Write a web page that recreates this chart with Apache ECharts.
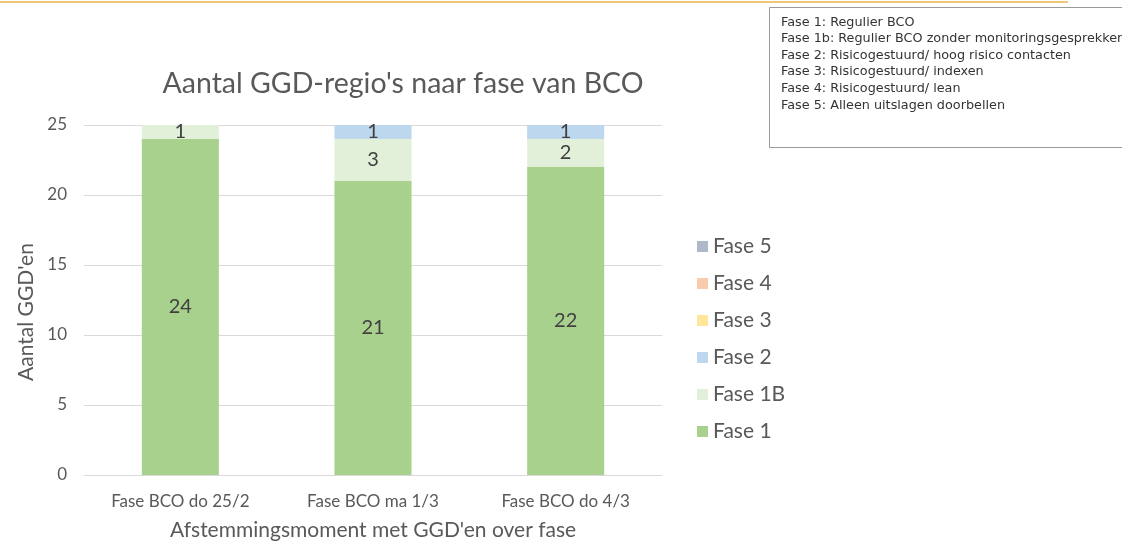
<!DOCTYPE html>
<html>
<head>
<meta charset="utf-8">
<script src="https://cdn.jsdelivr.net/npm/echarts@6/dist/echarts.min.js"></script>
<style>
  html, body { margin: 0; padding: 0; background: #fff; }
  #chart { width: 1122px; height: 545px; }
</style>
</head>
<body>
<div id="chart"></div>
<script>
const categories = ['Fase BCO do 25/2', 'Fase BCO ma 1/3', 'Fase BCO do 4/3'];
const fase1 = [24, 21, 22];
const fase1b = [1, 3, 2];
const fase2 = [0, 1, 1];
const fase3 = [0, 0, 0];
const fase4 = [0, 0, 0];
const fase5 = [0, 0, 0];
const noteLines = [
  'Fase 1: Regulier BCO',
  'Fase 1b: Regulier BCO zonder monitoringsgesprekken',
  'Fase 2: Risicogestuurd/ hoog risico contacten',
  'Fase 3: Risicogestuurd/ indexen',
  'Fase 4: Risicogestuurd/ lean',
  'Fase 5: Alleen uitslagen doorbellen'
];

const font = 'Lato, "Open Sans", sans-serif';
const chart = echarts.init(document.getElementById('chart'));

function bar(name, data, color) {
  return {
    name: name,
    type: 'bar',
    stack: 'fase',
    data: data,
    barCategoryGap: '60%',
    itemStyle: { color: color },
    label: {
      show: true,
      position: 'inside',
      color: '#404040',
      fontSize: 20,
      fontFamily: font,
      formatter: p => (p.value ? p.value : '')
    }
  };
}

chart.setOption({
  animation: false,
  title: {
    text: "Aantal GGD-regio's naar fase van BCO",
    left: 398,
    textAlign: 'center',
    top: 64,
    textStyle: { fontFamily: font, fontSize: 28.5, fontWeight: 'normal', color: '#595959' }
  },
  legend: {
    orient: 'vertical',
    left: 692,
    top: 231,
    itemWidth: 11,
    itemHeight: 11,
    itemGap: 16,
    icon: 'rect',
    data: ['Fase 5', 'Fase 4', 'Fase 3', 'Fase 2', 'Fase 1B', 'Fase 1'],
    textStyle: { fontFamily: font, fontSize: 21, color: '#595959' }
  },
  grid: { left: 84, right: 460, top: 125, bottom: 70, outerBoundsMode: 'none' },
  xAxis: {
    type: 'category',
    data: categories,
    name: "Afstemmingsmoment met GGD'en over fase",
    nameLocation: 'middle',
    nameGap: 45,
    nameTextStyle: { fontFamily: font, fontSize: 21, color: '#595959' },
    axisLine: { lineStyle: { color: '#d9d9d9' } },
    axisTick: { show: false },
    axisLabel: { fontFamily: font, fontSize: 17, color: '#595959', margin: 18 }
  },
  yAxis: {
    type: 'value',
    min: 0,
    max: 25,
    interval: 5,
    name: "Aantal GGD'en",
    nameLocation: 'middle',
    nameGap: 42,
    nameTextStyle: { fontFamily: font, fontSize: 21, color: '#595959', padding: [0, 24, 0, 0] },
    axisLabel: { fontFamily: font, fontSize: 17, color: '#595959', margin: 17 },
    splitLine: { lineStyle: { color: '#d9d9d9' } }
  },
  series: [
    bar('Fase 1', fase1, '#A9D18E'),
    bar('Fase 1B', fase1b, '#E2F0D9'),
    bar('Fase 2', fase2, '#BDD7EE'),
    bar('Fase 3', fase3, '#FFE699'),
    bar('Fase 4', fase4, '#F8CBAD'),
    bar('Fase 5', fase5, '#ADB9CA')
  ],
  graphic: [
    {
      type: 'rect',
      shape: { x: 0, y: 1, width: 1068, height: 2 },
      style: { fill: '#EFC77A' }
    },
    {
      type: 'rect',
      shape: { x: 769.5, y: 7.5, width: 360, height: 140 },
      style: { fill: '#fff', stroke: '#9a9a9a', lineWidth: 1 }
    },
    {
      type: 'text',
      left: 781,
      top: 14,
      style: {
        text: noteLines.join('\n'),
        fontFamily: '"DejaVu Sans", sans-serif',
        fontSize: 12.8,
        lineHeight: 16.6,
        fill: '#333'
      }
    }
  ]
});
</script>
</body>
</html>
